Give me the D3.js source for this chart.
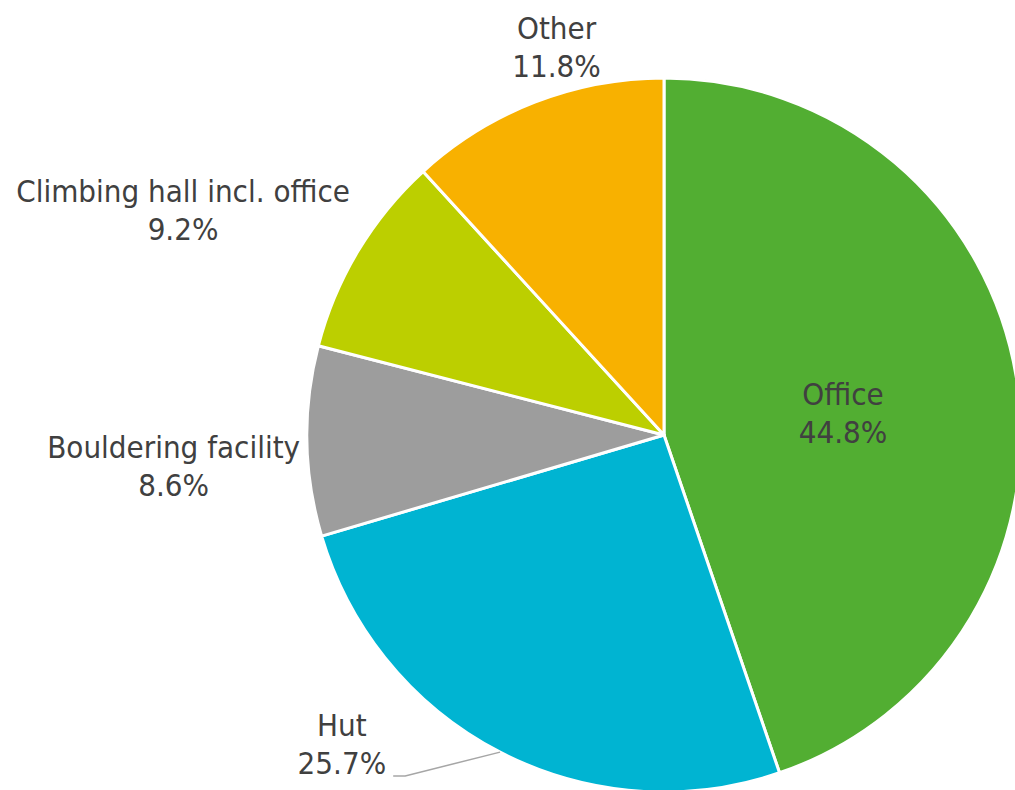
<!DOCTYPE html>
<html>
<head>
  <meta charset="utf-8">
  <title>Pie chart</title>
  <script src="https://d3js.org/d3.v7.min.js"></script>
  <style>
    body { margin: 0; background: #fff; }
    svg { display: block; }
    .lbl { font-family: "DejaVu Sans Condensed", "DejaVu Sans", sans-serif; font-size: 31px; fill: #404040; }
  </style>
</head>
<body>
<svg width="1015" height="790"></svg>
<script>
// data (clockwise from 12 o'clock)
const categories = ["Office", "Hut", "Bouldering facility", "Climbing hall incl. office", "Other"];
const shares = [44.8, 25.7, 8.6, 9.2, 11.8];
const colors = ["#52ae32", "#00b4d2", "#9d9d9d", "#bccf00", "#f8b100"];

// label tweaks (Excel-ish best fit placement)
const labelMode = ["inside", "outside", "outside", "outside", "outside"];
const labelAlign = ["middle", "middle", "end", "end", "middle"];
const labelNudge = [[3, -1], [-149, -34], [13, 16], [9, -39], [29, -45]];
const leader = [false, true, false, false, false];

const cx = 664, cy = 435, R = 357, lineH = 38;

const svg = d3.select("svg");
const g = svg.append("g").attr("transform", `translate(${cx},${cy})`);

const pie = d3.pie().sort(null).value(d => d.v);
const arcs = pie(categories.map((c, i) => ({ c: c, v: shares[i], i: i })));
const total = d3.sum(shares);

const arc = d3.arc().innerRadius(0).outerRadius(R);
const color = d3.scaleOrdinal().domain(categories).range(colors);

g.selectAll("path.slice")
  .data(arcs)
  .enter()
  .append("path")
    .attr("class", "slice")
    .attr("d", arc)
    .style("fill", d => color(d.data.c))
    .style("stroke", "#fff")
    .style("stroke-width", 3)
    .style("stroke-linejoin", "round");

function pointAt(a, r) {
  return [r * Math.sin(a), -r * Math.cos(a)];
}

arcs.forEach((d, i) => {
  const mid = (d.startAngle + d.endAngle) / 2;
  let p;
  if (labelMode[i] === "inside") p = arc.centroid(d);
  else p = pointAt(mid, R + 20);
  let x = p[0] + labelNudge[i][0];
  const y = p[1] + labelNudge[i][1];
  const pct = (d.data.v / total * 100).toFixed(1) + "%";

  // lines are centred on each other, block is placed by its edge
  const t = g.append("text")
    .attr("class", "lbl")
    .attr("text-anchor", "middle");
  const t1 = t.append("tspan").attr("x", x).attr("y", y).text(d.data.c);
  const t2 = t.append("tspan").attr("x", x).attr("y", y + lineH).text(pct);
  if (labelAlign[i] === "end") {
    const w = t.node().getBBox().width;
    x = x - w / 2;
    t1.attr("x", x);
    t2.attr("x", x);
  }

  if (leader[i]) {
    const bb = t2.node().getBBox();
    const s = pointAt(mid, R);
    const ly = y + lineH + 2;
    g.insert("polyline", "text")
      .attr("points", [[bb.x + bb.width + 7, ly], [bb.x + bb.width + 19, ly], s].map(q => q.join(",")).join(" "))
      .style("fill", "none")
      .style("stroke", "#a6a6a6")
      .style("stroke-width", 1.5);
  }
});
</script>
</body>
</html>
